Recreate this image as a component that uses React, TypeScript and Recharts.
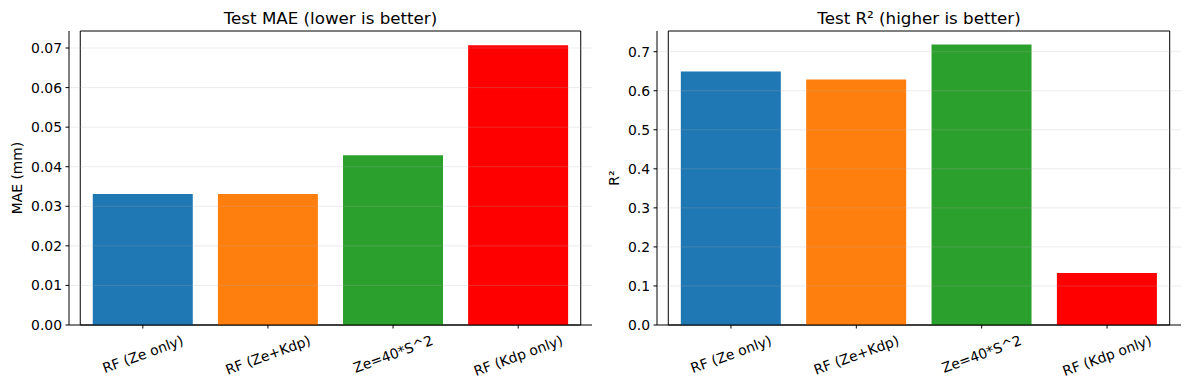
import React from 'react';
import { BarChart, Bar, Cell, XAxis, YAxis, ReferenceLine, ReferenceArea } from 'recharts';

const categories = ['RF (Ze only)', 'RF (Ze+Kdp)', 'Ze=40*S^2', 'RF (Kdp only)'];
const maeValues = [0.0331, 0.0331, 0.0429, 0.0707];
const r2Values = [0.649, 0.629, 0.7187, 0.1335];
const barColors = ['#1f77b4', '#ff7f0e', '#2ca02c', '#ff0000'];
const maeTicks = [0, 0.01, 0.02, 0.03, 0.04, 0.05, 0.06, 0.07];
const r2Ticks = [0, 0.1, 0.2, 0.3, 0.4, 0.5, 0.6, 0.7];

const FONT = '"DejaVu Sans", sans-serif';
const TICK_FS = 13.9;

// measure text width so the rotated labels sit like matplotlib's ha='center'
let ctx: CanvasRenderingContext2D | null = null;
const measure = (s: string) => {
  if (!ctx) ctx = document.createElement('canvas').getContext('2d');
  if (!ctx) return s.length * 8;
  ctx.font = `${TICK_FS}px "DejaVu Sans"`;
  return ctx.measureText(s).width;
};

const RotatedTick = (props: any) => {
  const { x, y, payload } = props;
  const w = measure(String(payload.value));
  const h = TICK_FS * 1.17;
  const a = (20 * Math.PI) / 180;
  const bh = w * Math.sin(a) + h * Math.cos(a);
  const cy = y + bh / 2;
  return (
    <text
      x={x}
      y={cy}
      textAnchor="middle"
      dominantBaseline="central"
      fontSize={TICK_FS}
      fill="#000"
      transform={`rotate(-20, ${x}, ${cy})`}
    >
      {payload.value}
    </text>
  );
};

interface PanelProps {
  width: number;
  values: number[];
  domain: [number, number];
  ticks: number[];
  decimals: number;
  title: string;
  yLabel: string;
  left: number;
  labelDx: number;
}

const Panel: React.FC<PanelProps> = ({ width, values, domain, ticks, decimals, title, yLabel, left, labelDx }) => {
  const data = categories.map((c, i) => ({ name: c, value: values[i] }));
  const plotW = width - left - 8;
  const pad = (plotW / 4.18) * 0.09;

  return (
    <div style={{ position: 'relative', width, height: 390 }}>
      <div
        style={{
          position: 'absolute',
          left,
          width: plotW,
          top: 8,
          textAlign: 'center',
          fontSize: 16.7,
          lineHeight: '20px',
          color: '#000',
        }}
      >
        {title}
      </div>
      <BarChart
        width={width}
        height={390}
        data={data}
        margin={{ top: 31, right: 8, bottom: 0, left: 0 }}
        barCategoryGap="10%"
      >
        <XAxis
          dataKey="name"
          height={65}
          padding={{ left: pad, right: pad }}
          interval={0}
          tick={<RotatedTick />}
          tickSize={3.5}
          tickMargin={3.5}
          stroke="#000"
          axisLine={{ stroke: '#000', strokeWidth: 1 }}
          tickLine={{ stroke: '#000' }}
        />
        <YAxis
          type="number"
          domain={domain}
          ticks={ticks}
          width={left}
          tickSize={3.5}
          tickMargin={3.5}
          stroke="#000"
          tickFormatter={(v: number) => v.toFixed(decimals)}
          tick={{ fontSize: TICK_FS, fill: '#000' }}
          axisLine={{ stroke: '#000', strokeWidth: 1 }}
          tickLine={{ stroke: '#000' }}
          allowDataOverflow
          label={{ value: yLabel, angle: -90, position: 'center', dx: labelDx, fontSize: TICK_FS, fill: '#000' }}
        />
        <Bar dataKey="value" isAnimationActive={false}>
          {data.map((d, i) => (
            <Cell key={d.name} fill={barColors[i]} />
          ))}
        </Bar>
        {/* matplotlib draws this grid above the bars */}
        {ticks.slice(1).map((t) => (
          <ReferenceLine key={t} y={t} stroke="#b0b0b0" strokeOpacity={0.3} strokeWidth={0.8} />
        ))}
        {/* axes frame (top and right spines) */}
        <ReferenceArea
          y1={domain[0]}
          y2={domain[1]}
          fill="none"
          stroke="#000"
          strokeWidth={1}
          ifOverflow="visible"
        />
      </BarChart>
    </div>
  );
};

export default function App() {
  return (
    <div
      style={{
        position: 'absolute',
        left: 0,
        top: 0,
        width: 1189,
        height: 390,
        background: '#fff',
        fontFamily: FONT,
        display: 'flex',
      }}
    >
      <Panel
        width={600}
        values={maeValues}
        domain={[0, 0.0743]}
        ticks={maeTicks}
        decimals={2}
        title="Test MAE (lower is better)"
        yLabel="MAE (mm)"
        left={69}
        labelDx={-17.5}
      />
      <Panel
        width={589}
        values={r2Values}
        domain={[0, 0.753]}
        ticks={r2Ticks}
        decimals={1}
        title="Test R² (higher is better)"
        yLabel="R²"
        left={57}
        labelDx={-14}
      />
    </div>
  );
}
